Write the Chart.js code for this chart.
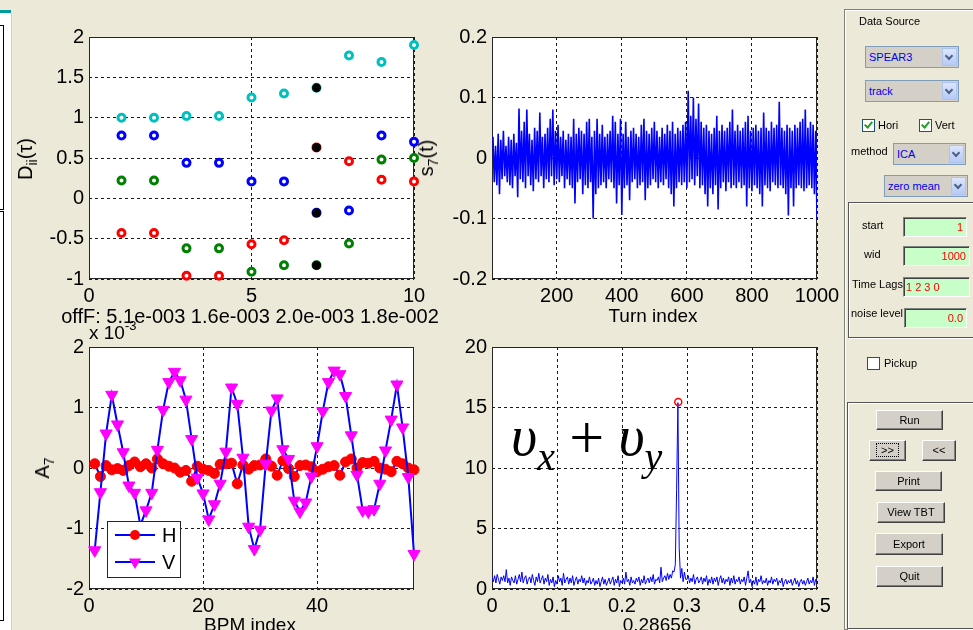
<!DOCTYPE html>
<html>
<head>
<meta charset="utf-8">
<script src="https://cdn.jsdelivr.net/npm/chart.js@4.4.1/dist/chart.umd.min.js"></script>
<style>
  body { margin: 0; width: 973px; height: 630px; overflow: hidden; position: relative;
         background: #ECE9D8; font-family: 'Liberation Sans', Arial, sans-serif; }
  .plot { position: absolute; }
  .t { position: absolute; white-space: nowrap; line-height: 22px; font-size: 19px; transform: translateX(-50%); }
  .yl { position: absolute; white-space: nowrap; line-height: 22px; font-size: 20px;
        transform: translate(-50%, -50%) rotate(-90deg); }
  .yl sub { font-size: 14px; vertical-align: -5px; line-height: 0; }
  .nu { position: absolute; white-space: nowrap; font-family: 'Liberation Serif', 'DejaVu Serif', serif;
        font-style: italic; font-size: 57px; line-height: 60px; }
  .nu sub { font-size: 40px; vertical-align: -15px; line-height: 0; }
  .nu b { font-weight: normal; font-style: normal; font-size: 62px; position: relative; top: 3px; }
  .ui { position: absolute; font-size: 11px; line-height: 13px; white-space: nowrap; color: #000; }
  .frame { position: absolute; border: 1px solid #808080; box-shadow: inset 1px 1px 0 #fff, 1px 1px 0 #fff; }
  .dd { position: absolute; box-sizing: border-box; background: #D4D0C8; border: 1px solid #7F9DB9;
        color: #0000E6; font-size: 11px; line-height: 20px; padding-left: 3px; }
  .dd i { position: absolute; right: 1px; top: 1px; bottom: 1px; width: 15px; box-sizing: border-box;
          background: linear-gradient(#DCE6FD, #B5CAF6); border: 1px solid #AFC3EF; }
  .dd i::after { content: ''; position: absolute; left: 3px; top: 4px; width: 4px; height: 4px;
                 border-right: 2px solid #4D6185; border-bottom: 2px solid #4D6185; transform: rotate(45deg); }
  .cb { position: absolute; width: 13px; height: 13px; box-sizing: border-box; border: 1px solid #1C5180; background: #fff; }
  .cb.on::after { content: ''; position: absolute; left: 3px; top: 0px; width: 3px; height: 6px;
                  border-right: 2px solid #21A121; border-bottom: 2px solid #21A121; transform: rotate(40deg); }
  .ed { position: absolute; box-sizing: border-box; background: #C8FFC8; border: 1px solid;
        border-color: #808080 #fff #fff #808080; box-shadow: inset 1px 1px #404040;
        color: #f00; font-size: 11px; line-height: 18px; text-align: right; padding-right: 3px; }
  .btn { position: absolute; box-sizing: border-box; background: #D4D0C8; border: 1px solid;
         border-color: #fff #404040 #404040 #fff; box-shadow: inset -1px -1px #808080;
         font-size: 11px; text-align: center; color: #000; }
</style>
</head>
<body>

<!-- left edge strip -->
<div style="position:absolute;left:0;top:13px;width:11px;height:617px;background:#fff;border-right:1px solid #d0d0d0"></div>
<div style="position:absolute;left:0;top:10px;width:11px;height:3px;background:#009C9C"></div>
<div style="position:absolute;left:-5px;top:25px;width:7px;height:183px;border:1px solid #000"></div>
<div style="position:absolute;left:-5px;top:211px;width:7px;height:408px;border:1px solid #000"></div>

<div class="plot" style="left:29px;top:23px;width:415px;height:286px"><canvas id="tl"></canvas></div>
<div class="plot" style="left:432px;top:23px;width:415px;height:286px"><canvas id="tr"></canvas></div>
<div class="plot" style="left:29px;top:333px;width:415px;height:286px"><canvas id="bl"></canvas></div>
<div class="plot" style="left:432px;top:333px;width:415px;height:286px"><canvas id="br"></canvas></div>

<!-- axis labels -->
<div class="t" style="left:250px;top:305px;font-size:20px">offF: 5.1e-003 1.6e-003 2.0e-003 1.8e-002</div>
<div class="t" style="left:653px;top:305px">Turn index</div>
<div class="t" style="left:250px;top:614px">BPM index</div>
<div class="t" style="left:657px;top:614px">0.28656</div>
<div class="yl" style="left:25px;top:159px">D<sub>ii</sub>(τ)</div>
<div class="yl" style="left:426px;top:158px">s<sub>7</sub>(t)</div>
<div class="yl" style="left:42px;top:468px">A<sub>7</sub></div>
<div style="position:absolute;left:89px;top:322px;font-size:19px;line-height:22px;white-space:nowrap">x 10<span style="font-size:13px;position:relative;top:-9px">-3</span></div>
<div class="nu" style="left:511px;top:404px">υ<sub>x</sub> <b>+</b> υ<sub>y</sub></div>

<!-- control panel -->
<div class="frame" style="left:844px;top:9px;width:140px;height:619px"></div>
<div class="ui" style="left:859px;top:15px">Data Source</div>
<div class="dd" style="left:865px;top:46px;width:94px;height:22px">SPEAR3<i></i></div>
<div class="dd" style="left:865px;top:80px;width:94px;height:22px">track<i></i></div>
<div class="cb on" style="left:862px;top:119px"></div>
<div class="ui" style="left:878px;top:119px">Hori</div>
<div class="cb on" style="left:919px;top:119px"></div>
<div class="ui" style="left:935px;top:119px">Vert</div>
<div class="ui" style="left:851px;top:145px">method</div>
<div class="dd" style="left:893px;top:143px;width:73px;height:22px">ICA<i></i></div>
<div class="dd" style="left:884px;top:175px;width:84px;height:22px">zero mean<i></i></div>

<div class="frame" style="left:848px;top:202px;width:140px;height:134px;border-color:#555"></div>
<div class="ui" style="left:862px;top:219px">start</div>
<div class="ed" style="left:903px;top:217px;width:64px;height:20px">1</div>
<div class="ui" style="left:864px;top:248px">wid</div>
<div class="ed" style="left:903px;top:246px;width:67px;height:20px">1000</div>
<div class="ui" style="left:852px;top:278px">Time Lags</div>
<div class="ed" style="left:903px;top:277px;width:67px;height:20px;text-align:left;padding-left:2px">1 2 3 0</div>
<div class="ui" style="left:851px;top:307px">noise level</div>
<div class="ed" style="left:904px;top:308px;width:63px;height:20px">0.0</div>

<div class="cb" style="left:867px;top:357px"></div>
<div class="ui" style="left:884px;top:357px">Pickup</div>

<div class="frame" style="left:847px;top:402px;width:140px;height:225px;border-color:#555"></div>
<div class="btn" style="left:876px;top:410px;width:67px;height:20px;line-height:18px">Run</div>
<div class="btn" style="left:869px;top:440px;width:37px;height:21px;line-height:19px"><span style="outline:1px dotted #000;outline-offset:0;padding:0 4px">&gt;&gt;</span></div>
<div class="btn" style="left:922px;top:440px;width:34px;height:21px;line-height:19px">&lt;&lt;</div>
<div class="btn" style="left:875px;top:471px;width:67px;height:20px;line-height:18px">Print</div>
<div class="btn" style="left:877px;top:502px;width:68px;height:21px;line-height:19px">View TBT</div>
<div class="btn" style="left:875px;top:533px;width:68px;height:22px;line-height:20px">Export</div>
<div class="btn" style="left:876px;top:566px;width:67px;height:21px;line-height:19px">Quit</div>

<script>
// ── Data ────────────────────────────────────────────────────────────────────
// top-left: D_ii(tau) for each separated source, vs time lag
const lagX   = [1, 2, 3, 4, 5, 6, 7, 8, 9, 10];
const dCyan  = [1.00, 1.00, 1.02, 1.02, 1.25, 1.30, 1.37, 1.77, 1.69, 1.90];
const dBlue  = [0.78, 0.78, 0.44, 0.44, 0.21, 0.21, -0.18, -0.15, 0.78, 0.70];
const dGreen = [0.22, 0.22, -0.62, -0.62, -0.91, -0.83, -0.83, -0.56, 0.48, 0.50];
const dRed   = [-0.43, -0.43, -0.96, -0.96, -0.57, -0.52, 0.63, 0.46, 0.23, 0.21];
const pickLag = 7;
const dPick  = [1.37, -0.18, -0.83, 0.63];

// top-right: source s7(t), one value every 4 turns
const turnStep = 4;
const s7 = [
  0.035,-0.04,0.02,-0.045,0.04,-0.06,0.03,-0.035,0.045,-0.03,
  0.02,-0.04,0.035,-0.045,0.03,-0.05,0.04,-0.03,0.025,-0.065,
  0.082,-0.035,0.045,-0.04,0.06,-0.05,0.08,-0.03,0.04,-0.045,
  0.03,-0.055,0.05,-0.035,0.045,-0.04,0.075,-0.03,0.035,-0.05,
  0.04,-0.035,0.05,-0.04,0.065,-0.03,0.08,-0.045,0.045,-0.035,
  0.055,-0.04,0.035,-0.03,0.045,-0.05,0.03,-0.035,0.04,-0.045,
  0.035,-0.05,0.065,-0.075,0.04,-0.04,0.05,-0.035,0.045,-0.06,
  0.04,-0.045,0.06,-0.05,0.065,-0.04,0.035,-0.1,0.045,-0.06,
  0.065,-0.05,0.04,-0.045,0.055,-0.04,0.035,-0.05,0.04,-0.035,
  0.045,-0.04,0.07,-0.05,0.06,-0.075,0.04,-0.045,0.065,-0.094,
  0.04,-0.05,0.06,-0.045,0.035,-0.07,0.045,-0.04,0.05,-0.035,
  0.04,-0.05,0.035,-0.045,0.055,-0.04,0.065,-0.07,0.045,-0.05,
  0.04,-0.045,0.05,-0.035,0.06,-0.04,0.045,-0.05,0.035,-0.04,
  0.05,-0.045,0.04,-0.035,0.055,-0.05,0.045,-0.06,0.06,-0.08,
  0.04,-0.05,0.05,-0.04,0.045,-0.045,0.055,-0.04,0.06,-0.05,
  0.111,-0.04,0.07,-0.035,0.10,-0.045,0.065,-0.03,0.09,-0.05,
  0.06,-0.045,0.05,-0.06,0.055,-0.08,0.045,-0.05,0.04,-0.06,
  0.05,-0.045,0.07,-0.085,0.045,-0.05,0.055,-0.04,0.045,-0.055,
  0.05,-0.04,0.06,-0.05,0.08,-0.045,0.045,-0.05,0.055,-0.04,
  0.045,-0.05,0.05,-0.045,0.06,-0.08,0.07,-0.05,0.045,-0.055,
  0.05,-0.045,0.055,-0.05,0.045,-0.06,0.05,-0.08,0.075,-0.045,
  0.05,-0.05,0.045,-0.055,0.06,-0.04,0.05,-0.045,0.055,-0.05,
  0.093,-0.045,0.05,-0.05,0.045,-0.06,0.055,-0.095,0.05,-0.05,
  0.045,-0.08,0.055,-0.05,0.05,-0.045,0.06,-0.05,0.065,-0.055,
  0.08,-0.05,0.05,-0.045,0.06,-0.05,0.055,-0.06,0.045,-0.10,
];

// bottom-left: spatial pattern A7 (x 1e-3) at each BPM
const hA7 = [
  0.07, -0.14, 0.04, -0.03, -0.01, -0.04, 0.04, 0.10, 0.02, 0.07,
  0.00, 0.15, 0.07, 0.03, 0.00, -0.07, -0.04, -0.22, 0.03, -0.02,
  -0.04, -0.09, 0.06, 0.07, 0.08, -0.26, 0.05, -0.02, 0.04, 0.05,
  0.15, 0.03, -0.12, 0.12, -0.01, -0.14, 0.04, 0.05, 0.02, -0.06,
  -0.02, 0.02, 0.04, -0.12, 0.10, 0.15, 0.00, 0.09, 0.08, 0.11,
  0.00, -0.02, -0.06, 0.11, 0.07, 0.00, -0.03,
];
const vA7 = [
  -1.36, -0.40, 0.57, 1.21, 0.72, 0.26, -0.29, -0.41, -0.95, -0.70,
  -0.41, 0.30, 0.96, 1.42, 1.59, 1.45, 1.13, 0.48, -0.16, -0.42,
  -0.85, -0.60, -0.26, 0.27, 1.33, 1.06, 0.17, -0.97, -1.34, -1.02,
  0.07, 0.95, 1.15, 0.31, 0.15, -0.54, -0.72, -0.57, -0.14, 0.36,
  0.94, 1.42, 1.61, 1.55, 1.19, 0.54, -0.11, -0.70, -0.72, -0.68,
  -0.26, 0.29, 0.80, 1.38, 0.67, -0.15, -1.42,
];

// bottom-right: spectrum of s7, one bin every 0.002
const freqStep = 0.002;
const spec = [
  0.9,0.6,1.1,0.5,1.2,0.8,0.4,1.0,0.7,1.1,
  0.6,1.6,0.5,0.9,0.3,1.0,0.7,0.5,1.1,0.4,
  0.8,1.2,0.6,1.4,0.5,0.9,1.1,0.4,0.8,1.0,
  0.5,1.2,0.7,0.3,1.0,0.6,1.3,0.5,0.8,1.1,
  0.4,0.9,0.6,1.2,0.3,0.8,0.5,1.0,0.2,0.7,
  0.4,1.1,0.6,0.9,0.3,1.3,0.5,0.8,1.0,0.4,
  0.9,0.5,1.1,0.3,0.7,1.0,0.4,0.8,0.6,1.1,
  0.5,0.9,0.3,0.7,0.5,1.0,0.4,0.6,0.9,0.3,
  0.7,0.4,0.9,0.2,0.6,1.0,0.4,0.8,0.3,0.6,
  0.9,0.4,0.7,1.0,0.3,0.8,0.5,1.1,0.2,0.7,
  0.5,0.9,0.4,1.4,0.6,0.8,0.3,1.0,0.5,0.7,
  0.4,0.9,0.6,1.0,0.3,0.8,0.5,1.1,0.4,0.7,
  0.9,0.5,1.0,0.6,1.2,0.4,0.8,0.7,1.0,0.5,
  1.8,0.6,0.9,1.1,0.7,1.3,0.8,1.2,0.9,1.5,
  1.4,2.0,8.2,15.4,3.4,0.9,1.7,0.6,1.4,0.8,
  0.8,1.1,0.5,0.9,0.6,1.2,0.4,0.8,1.0,0.5,
  0.7,1.0,0.4,0.9,0.6,1.1,0.3,0.8,0.5,1.0,
  0.4,0.9,0.6,1.0,0.3,0.8,1.1,0.5,0.9,0.4,
  0.8,0.6,1.0,0.3,0.9,0.5,1.1,0.4,0.8,0.6,
  1.0,0.4,0.8,0.6,1.0,0.3,0.9,1.5,0.5,0.8,
  0.2,0.7,0.4,1.0,0.3,0.8,0.6,1.1,0.4,0.7,
  0.5,0.9,0.3,0.7,0.5,1.0,0.4,0.8,0.6,0.9,
  0.3,0.7,0.5,0.9,0.2,0.6,0.8,0.4,0.7,0.5,
  0.8,0.3,0.6,0.9,0.4,0.7,0.2,0.6,0.8,0.4,
  0.7,0.3,0.6,0.9,0.4,0.7,0.5,1.0,0.3,0.8,
  0.6,
];
const peakTune = 0.28656;
const peakAmp  = 15.45;

// ── Theme ───────────────────────────────────────────────────────────────────
Chart.defaults.font.family = "'Liberation Sans', Arial, sans-serif";
Chart.defaults.font.size = 20;
Chart.defaults.color = '#000';

const COLORS = {
  cyan:    '#00BFBF',
  blue:    '#0000FF',
  green:   '#008000',
  red:     '#FF0000',
  magenta: '#FF00FF',
  black:   '#000000',
  grid:    '#1a1a1a',
};

const Y_AXIS_W = 60;
const X_AXIS_H = 30;

// white axes background + MATLAB style box
const axesBox = {
  id: 'axesBox',
  beforeDraw(chart) {
    const { ctx, chartArea: a } = chart;
    ctx.save();
    ctx.fillStyle = '#fff';
    ctx.fillRect(a.left, a.top, a.right - a.left, a.bottom - a.top);
    ctx.restore();
  },
  beforeDatasetsDraw(chart) {
    const { ctx, chartArea: a } = chart;
    ctx.save();
    ctx.strokeStyle = '#262626';
    ctx.lineWidth = 1;
    ctx.strokeRect(Math.round(a.left) + 0.5, Math.round(a.top) + 0.5,
                   Math.round(a.right - a.left) - 1, Math.round(a.bottom - a.top) - 1);
    ctx.restore();
  },
};

function makeAxis(min, max, ticks, size) {
  return {
    type: 'linear',
    min, max,
    afterBuildTicks: scale => { scale.ticks = ticks.map(value => ({ value })); },
    afterFit: scale => {
      if (scale.isHorizontal()) scale.height = size; else scale.width = size;
      scale.paddingLeft = scale.paddingRight = scale.paddingTop = scale.paddingBottom = 0;
    },
    grid: { color: COLORS.grid, lineWidth: 1, drawTicks: false, borderDash: [3, 3] },
    border: { display: false, dash: [3, 3] },
    ticks: { color: '#000', padding: 5, maxRotation: 0, autoSkip: false, callback: v => String(v) },
  };
}

function makeOptions(xr, xt, yr, yt) {
  return {
    responsive: true,
    maintainAspectRatio: false,
    animation: false,
    layout: { padding: { top: 14, right: 30, bottom: 0, left: 0 } },
    plugins: { legend: { display: false }, tooltip: { enabled: false } },
    scales: {
      x: makeAxis(xr[0], xr[1], xt, X_AXIS_H),
      y: makeAxis(yr[0], yr[1], yt, Y_AXIS_W),
    },
  };
}

const xy = (xs, ys) => ys.map((y, i) => ({ x: xs[i], y }));

function ring(data, color) {
  return {
    data, showLine: false, clip: false,
    pointRadius: 3.5, pointBorderWidth: 3,
    pointBorderColor: color, pointBackgroundColor: '#fff',
  };
}

// ── Top-left: D_ii(tau) ─────────────────────────────────────────────────────
new Chart(document.getElementById('tl'), {
  type: 'scatter',
  data: {
    datasets: [
      {
        data: dPick.map(y => ({ x: pickLag, y })), showLine: false, clip: false,
        pointRadius: 4.5, pointBorderWidth: 0, pointBackgroundColor: COLORS.black,
      },
      ring(xy(lagX, dCyan), COLORS.cyan),
      ring(xy(lagX, dBlue), COLORS.blue),
      ring(xy(lagX, dGreen), COLORS.green),
      ring(xy(lagX, dRed), COLORS.red),
    ],
  },
  options: makeOptions([0, 10], [0, 5, 10], [-1, 2], [-1, -0.5, 0, 0.5, 1, 1.5, 2]),
  plugins: [axesBox],
});

// ── Top-right: s7(t) ────────────────────────────────────────────────────────
const turns = s7.map((_, k) => (k + 1) * turnStep);
new Chart(document.getElementById('tr'), {
  type: 'line',
  data: {
    datasets: [{
      data: xy(turns, s7),
      borderColor: COLORS.blue, borderWidth: 1.6, pointRadius: 0, tension: 0,
    }],
  },
  options: makeOptions([1, 1000], [200, 400, 600, 800, 1000], [-0.2, 0.2], [-0.2, -0.1, 0, 0.1, 0.2]),
  plugins: [axesBox],
});

// ── Bottom-left: A7 vs BPM index, with inset legend ─────────────────────────
const bpm = vA7.map((_, i) => i + 1);

function downTriangle(ctx, cx, cy, r) {
  ctx.beginPath();
  ctx.moveTo(cx, cy + r);
  ctx.lineTo(cx - 0.866 * r, cy - r / 2);
  ctx.lineTo(cx + 0.866 * r, cy - r / 2);
  ctx.closePath();
  ctx.fill();
}

const bpmLegend = {
  id: 'bpmLegend',
  afterDraw(chart) {
    const { ctx, chartArea: a } = chart;
    const x = Math.round(a.left) + 18, y = Math.round(a.top) + 174, w = 73, h = 56;
    const rows = [
      { label: 'H', cy: y + 14 },
      { label: 'V', cy: y + 41 },
    ];
    ctx.save();
    ctx.fillStyle = '#fff';
    ctx.fillRect(x, y, w, h);
    ctx.strokeStyle = '#262626';
    ctx.lineWidth = 1;
    ctx.strokeRect(x + 0.5, y + 0.5, w, h);
    rows.forEach((row, i) => {
      ctx.strokeStyle = COLORS.blue;
      ctx.lineWidth = 2;
      ctx.beginPath();
      ctx.moveTo(x + 8, row.cy);
      ctx.lineTo(x + 48, row.cy);
      ctx.stroke();
      if (i === 0) {
        ctx.fillStyle = COLORS.red;
        ctx.beginPath();
        ctx.arc(x + 28, row.cy, 5, 0, Math.PI * 2);
        ctx.fill();
      } else {
        ctx.fillStyle = COLORS.magenta;
        downTriangle(ctx, x + 28, row.cy, 7);
      }
      ctx.fillStyle = '#000';
      ctx.font = "20px 'Liberation Sans', Arial, sans-serif";
      ctx.textBaseline = 'middle';
      ctx.fillText(row.label, x + 55, row.cy + 1);
    });
    ctx.restore();
  },
};

new Chart(document.getElementById('bl'), {
  type: 'line',
  data: {
    datasets: [
      {
        label: 'V', data: xy(bpm, vA7), order: 0, clip: false,
        borderColor: COLORS.blue, borderWidth: 2, tension: 0,
        pointStyle: 'triangle', rotation: 180, pointRadius: 7, pointBorderWidth: 1,
        pointBackgroundColor: COLORS.magenta, pointBorderColor: COLORS.magenta,
      },
      {
        label: 'H', data: xy(bpm, hA7), order: 1, clip: false,
        borderColor: COLORS.blue, borderWidth: 2, tension: 0,
        pointStyle: 'circle', pointRadius: 5, pointBorderWidth: 1,
        pointBackgroundColor: COLORS.red, pointBorderColor: COLORS.red,
      },
    ],
  },
  options: makeOptions([0, 57], [0, 20, 40], [-2, 2], [-2, -1, 0, 1, 2]),
  plugins: [axesBox, bpmLegend],
});

// ── Bottom-right: tune spectrum ─────────────────────────────────────────────
const freq = spec.map((_, k) => +(k * freqStep).toFixed(3));
new Chart(document.getElementById('br'), {
  type: 'line',
  data: {
    datasets: [
      {
        data: [{ x: peakTune, y: peakAmp }], showLine: false, clip: false,
        pointRadius: 3.5, pointBorderWidth: 1.5,
        pointBorderColor: COLORS.red, pointBackgroundColor: 'rgba(0,0,0,0)',
      },
      {
        data: xy(freq, spec),
        borderColor: COLORS.blue, borderWidth: 1, pointRadius: 0, tension: 0,
      },
    ],
  },
  options: makeOptions([0, 0.5], [0, 0.1, 0.2, 0.3, 0.4, 0.5], [0, 20], [0, 5, 10, 15, 20]),
  plugins: [axesBox],
});
</script>
</body>
</html>
